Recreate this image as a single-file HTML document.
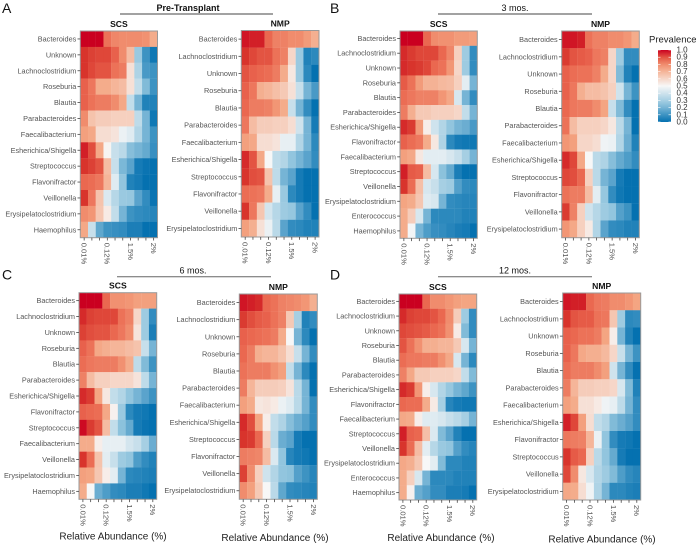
<!DOCTYPE html>
<html lang="en">
<head>
<meta charset="utf-8">
<title>Prevalence heatmaps</title>
<style>
html,body{margin:0;padding:0;background:#fff;}
svg{display:block;font-family:"Liberation Sans",Arial,sans-serif;}
.ylab{font-size:7.3px;fill:#555;text-anchor:end;dominant-baseline:central;}
.xlab{font-size:7.6px;fill:#555;}
.ptitle{font-size:8.6px;font-weight:bold;fill:#111;text-anchor:middle;}
.group{font-size:9px;fill:#111;text-anchor:middle;}
.letter{font-size:14px;fill:#111;}
.axis-title{font-size:10px;fill:#222;text-anchor:middle;}
.legend-title{font-size:9.5px;fill:#222;}
.legend-label{font-size:8px;fill:#333;dominant-baseline:central;}
</style>
</head>
<body>
<svg id="chart" xmlns="http://www.w3.org/2000/svg" width="696" height="549" viewBox="0 0 696 549">
  <rect width="696" height="549" fill="#fff"/>
  <text class="letter" x="2" y="13">A</text>
  <text class="letter" x="330" y="13">B</text>
  <text class="letter" x="2" y="279.5">C</text>
  <text class="letter" x="330" y="279.5">D</text>

  <text class="group" style="font-weight:bold" x="188" y="11">Pre-Transplant</text>
  <line x1="120" x2="273" y1="14" y2="14" stroke="#444" stroke-width="1"/>
  <text class="group" x="515" y="11">3 mos.</text>
  <line x1="438" x2="592" y1="14" y2="14" stroke="#444" stroke-width="1"/>
  <text class="group" x="193" y="273.5">6 mos.</text>
  <line x1="117" x2="271" y1="276.7" y2="276.7" stroke="#666" stroke-width="1"/>
  <text class="group" x="515" y="273.5">12 mos.</text>
  <line x1="438" x2="592" y1="276.7" y2="276.7" stroke="#666" stroke-width="1"/>

  <text class="axis-title" x="113" y="539.5">Relative Abundance (%)</text>
  <text class="axis-title" x="275" y="541">Relative Abundance (%)</text>
  <text class="axis-title" x="441" y="541">Relative Abundance (%)</text>
  <text class="axis-title" x="602" y="542.5">Relative Abundance (%)</text>

  <defs>
    <linearGradient id="legend-gradient" x1="0" y1="0" x2="0" y2="1"></linearGradient>
  </defs>
  <text class="legend-title" x="649" y="42.5">Prevalence</text>
  <rect x="658" y="50" width="13" height="72" fill="url(#legend-gradient)"/>
  <g id="legend"></g>
  <g id="panels"></g>
</svg>
<script>
// ---- shared axis data ----
const xTickLabels = ['0.01%', '', '', '0.12%', '', '', '1.5%', '', '', '2%'];
const legendTicks = [1.0, 0.9, 0.8, 0.7, 0.6, 0.5, 0.4, 0.3, 0.2, 0.1, 0.0];

// ---- taxa (row categories) ----
const taxaASCS = ['Bacteroides','Unknown','Lachnoclostridium','Roseburia','Blautia','Parabacteroides','Faecalibacterium','Esherichica/Shigella','Streptococcus','Flavonifractor','Veillonella','Erysipelatoclostridium','Haemophilus'];
const taxaNMP = ['Bacteroides','Lachnoclostridium','Unknown','Roseburia','Blautia','Parabacteroides','Faecalibacterium','Esherichica/Shigella','Streptococcus','Flavonifractor','Veillonella','Erysipelatoclostridium'];
const taxaBSCS = ['Bacteroides','Lachnoclostridium','Unknown','Roseburia','Blautia','Parabacteroides','Esherichica/Shigella','Flavonifractor','Faecalibacterium','Streptococcus','Veillonella','Erysipelatoclostridium','Enterococcus','Haemophilus'];
const taxaCSCS = ['Bacteroides','Lachnoclostridium','Unknown','Roseburia','Blautia','Parabacteroides','Esherichica/Shigella','Flavonifractor','Streptococcus','Faecalibacterium','Veillonella','Erysipelatoclostridium','Haemophilus'];
const taxaDNMP = ['Bacteroides','Lachnoclostridium','Unknown','Roseburia','Blautia','Parabacteroides','Faecalibacterium','Esherichica/Shigella','Flavonifractor','Streptococcus','Veillonella','Erysipelatoclostridium'];

// ---- prevalence values ----
const valuesASCS = [
[1,1,1,.85,.81,.8,.8,.8,.79,.73],
[.95,.93,.92,.92,.88,.8,.68,.27,.1,.02],
[.95,.92,.9,.9,.85,.83,.57,.32,.12,.1],
[.88,.84,.73,.73,.7,.68,.57,.37,.22,.1],
[.88,.85,.83,.83,.8,.74,.37,.2,.05,.05],
[.8,.66,.63,.63,.62,.62,.62,.36,.2,.02],
[.76,.74,.58,.58,.56,.47,.44,.33,.2,.1],
[.97,.91,.74,.51,.38,.35,.23,.2,.17,.09],
[.95,.93,.9,.68,.38,.21,.15,.03,.01,0],
[.87,.86,.84,.7,.44,.25,.05,.03,0,0],
[.95,.84,.66,.43,.34,.27,.26,.15,.08,.01],
[.8,.78,.65,.54,.37,.2,.1,.08,.07,.06],
[.74,.38,.16,.1,.09,.08,.04,.04,0,0]];
const valuesANMP = [
[.98,.97,.97,.87,.82,.82,.8,.8,.77,.72],
[.95,.92,.9,.9,.85,.82,.6,.27,.05,.07],
[.9,.88,.87,.86,.83,.73,.55,.27,.07,0],
[.88,.84,.72,.7,.67,.64,.57,.38,.2,.12],
[.87,.83,.83,.82,.78,.73,.38,.2,.08,0],
[.84,.68,.63,.63,.62,.62,.58,.4,.2,.03],
[.76,.74,.58,.58,.56,.46,.46,.33,.2,.07],
[.96,.9,.74,.5,.36,.33,.25,.2,.15,.08],
[.95,.91,.9,.66,.36,.2,.15,.03,0,0],
[.86,.85,.84,.73,.46,.27,.07,.03,0,0],
[.95,.84,.65,.41,.34,.28,.26,.15,.08,0],
[.76,.72,.57,.47,.35,.15,.08,.07,.05,.05]];
const valuesBSCS = [
[1,1,1,.87,.8,.79,.79,.77,.77,.76],
[.96,.94,.92,.92,.92,.87,.81,.62,.28,.08],
[.96,.95,.94,.92,.87,.85,.78,.6,.28,.08],
[.89,.85,.77,.71,.71,.69,.68,.62,.45,.2],
[.86,.84,.82,.82,.82,.78,.74,.42,.2,.08],
[.83,.72,.64,.64,.62,.62,.62,.6,.37,.2],
[.96,.94,.77,.53,.4,.33,.25,.2,.18,.12],
[.88,.86,.84,.73,.55,.32,.07,.03,.02,.02],
[.76,.74,.55,.45,.45,.45,.42,.38,.3,.2],
[.97,.89,.88,.68,.42,.24,.17,.04,0,0],
[.95,.86,.67,.42,.38,.3,.28,.14,.08,.07],
[.75,.73,.65,.44,.42,.2,.08,.07,.06,.06],
[.73,.63,.42,.2,.07,.07,.07,.07,.05,.05],
[.73,.49,.2,.13,.09,.08,.06,.04,.03,0]];
const valuesBNMP = [
[.98,.98,.97,.85,.82,.82,.8,.8,.78,.73],
[.94,.9,.89,.88,.84,.82,.6,.28,.08,.08],
[.88,.86,.85,.85,.82,.73,.6,.22,.05,0],
[.88,.84,.72,.68,.68,.66,.62,.4,.2,.1],
[.87,.84,.83,.83,.8,.75,.38,.22,.08,0],
[.85,.68,.62,.62,.62,.6,.55,.35,.2,0],
[.78,.76,.6,.6,.58,.48,.47,.33,.18,.05],
[.96,.92,.74,.5,.35,.32,.23,.17,.13,.08],
[.92,.91,.87,.62,.35,.2,.15,.03,0,0],
[.85,.83,.83,.68,.45,.26,.08,.02,0,0],
[.94,.82,.62,.4,.34,.28,.25,.14,.1,0],
[.78,.74,.62,.54,.33,.15,.08,.07,.05,.05]];
const valuesCSCS = [
[1,1,1,.87,.79,.79,.78,.76,.76,.76],
[.96,.93,.92,.92,.92,.85,.82,.6,.28,.08],
[.93,.91,.9,.9,.87,.84,.8,.56,.28,.04],
[.88,.85,.74,.72,.7,.7,.68,.66,.38,.2],
[.86,.84,.83,.83,.83,.79,.73,.36,.22,.1],
[.82,.68,.62,.62,.6,.6,.6,.56,.36,.2],
[.96,.94,.75,.55,.37,.33,.25,.2,.15,.1],
[.88,.87,.86,.74,.52,.27,.07,.03,.02,0],
[.99,.94,.9,.68,.37,.24,.17,.03,.01,0],
[.73,.73,.53,.46,.46,.46,.41,.38,.3,.18],
[.95,.86,.66,.45,.38,.28,.25,.13,.08,.05],
[.76,.75,.65,.53,.45,.2,.07,.06,.05,.04],
[.73,.5,.18,.13,.08,.07,.04,.04,.02,0]];
const valuesCNMP = [
[.98,.97,.96,.87,.85,.82,.81,.8,.78,.72],
[.94,.91,.89,.88,.85,.82,.64,.3,.05,.08],
[.88,.87,.86,.85,.83,.73,.5,.2,.07,0],
[.87,.83,.72,.7,.7,.66,.58,.38,.2,.08],
[.85,.83,.83,.83,.79,.76,.37,.2,.07,0],
[.83,.7,.63,.63,.63,.62,.56,.35,.2,0],
[.76,.73,.55,.56,.54,.47,.44,.35,.2,.08],
[.96,.91,.75,.53,.37,.32,.23,.18,.14,.08],
[.95,.94,.87,.62,.35,.18,.15,.03,0,0],
[.83,.82,.81,.68,.43,.25,.06,.03,.02,0],
[.93,.8,.62,.4,.33,.25,.24,.14,.1,.06],
[.8,.76,.64,.5,.35,.16,.08,.07,.06,.05]];
const valuesDSCS = [
[1,1,1,.87,.8,.8,.78,.76,.75,.75],
[.96,.93,.92,.92,.9,.87,.8,.63,.28,.08],
[.92,.91,.9,.89,.87,.85,.79,.54,.22,.08],
[.9,.85,.79,.72,.72,.7,.7,.64,.42,.2],
[.86,.84,.84,.83,.83,.79,.74,.42,.2,.07],
[.82,.74,.64,.64,.62,.62,.62,.6,.37,.22],
[.96,.94,.78,.53,.42,.33,.26,.2,.16,.1],
[.87,.86,.86,.73,.54,.3,.06,.03,.02,.02],
[.74,.73,.53,.44,.44,.42,.38,.35,.3,.2],
[.97,.88,.87,.67,.43,.22,.15,.05,0,0],
[.95,.86,.68,.45,.34,.27,.25,.14,.08,.06],
[.74,.72,.65,.5,.45,.22,.07,.07,.05,.05],
[.73,.62,.42,.2,.07,.07,.07,.05,.05,.05],
[.73,.52,.18,.14,.08,.08,.04,.04,.03,0]];
const valuesDNMP = [
[.98,.97,.97,.87,.84,.83,.8,.8,.78,.75],
[.95,.9,.89,.89,.85,.84,.65,.28,.07,.08],
[.88,.87,.85,.85,.83,.75,.53,.2,.05,0],
[.88,.84,.74,.72,.72,.69,.6,.38,.2,.1],
[.86,.83,.83,.83,.8,.76,.4,.2,.08,0],
[.83,.7,.63,.63,.62,.62,.6,.42,.22,.05],
[.76,.73,.57,.57,.54,.48,.46,.36,.2,.08],
[.97,.92,.76,.58,.37,.33,.22,.18,.14,.08],
[.84,.83,.82,.7,.47,.25,.08,.03,.02,0],
[.95,.89,.87,.62,.35,.25,.17,.03,0,0],
[.92,.8,.55,.42,.33,.28,.22,.13,.08,.06],
[.74,.73,.58,.48,.32,.2,.07,.07,.05,.04]];

const SVGNS = 'http://www.w3.org/2000/svg';
const panelsGroup = document.getElementById('panels');

// colour scale: diverging blue-white-red, orange-leaning in the upper reds
const scaleBreaks = [0, 0.25, 0.5, 0.75, 0.87, 0.95, 1];
const scaleColors = [[5,113,176],[146,197,222],[247,247,247],[244,165,130],[234,104,80],[216,52,44],[202,0,32]];
function colorScale(v) {
  const x = Math.max(0, Math.min(1, v));
  let i = 0;
  while (i < scaleBreaks.length - 2 && x > scaleBreaks[i + 1]) i++;
  const t = (x - scaleBreaks[i]) / (scaleBreaks[i + 1] - scaleBreaks[i]);
  const m = scaleColors[i].map((a, k) => Math.round(a + (scaleColors[i + 1][k] - a) * t));
  return 'rgb(' + m.join(',') + ')';
}
function svgEl(tag, attrs, parent) {
  const el = document.createElementNS(SVGNS, tag);
  for (const k in attrs) el.setAttribute(k, attrs[k]);
  parent.appendChild(el);
  return el;
}

function drawPanel(id, title, taxa, values, x0, x1, y0, y1) {
  const nCols = values[0].length;
  const nRows = taxa.length;
  const xScale = c => x0 + (x1 - x0) * c / nCols;
  const yScale = r => y0 + (y1 - y0) * r / nRows;
  const cellW = (x1 - x0) / nCols;
  const cellH = (y1 - y0) / nRows;

  const g = svgEl('g', {}, panelsGroup);
  
  

  const t = svgEl('text', {class: 'ptitle', x: (x0 + x1) / 2, y: y0 - 4}, g);
  
  
  t.textContent = title;

  values.forEach((row, r) => {
    row.forEach((v, c) => {
      const cell = svgEl('rect', {x: xScale(c), y: yScale(r), width: cellW + 0.15, height: cellH + 0.15, fill: colorScale(v)}, g);
      
      
    });
  });

  const frame = svgEl('rect', {x: x0, y: y0, width: x1 - x0, height: y1 - y0, fill: 'none', stroke: '#999', 'stroke-width': 1}, g);
  
  

  taxa.forEach((name, r) => {
    const yc = yScale(r + 0.5);
    const tick = svgEl('line', {x1: x0 - 2.8, x2: x0, y1: yc, y2: yc, stroke: '#444', 'stroke-width': 0.8}, g);
    
    
    const lab = svgEl('text', {class: 'ylab', x: x0 - 4, y: yc}, g);
    
    
    lab.textContent = name;
  });

  xTickLabels.forEach((label, c) => {
    const xc = xScale(c + 0.5);
    const tick = svgEl('line', {x1: xc, x2: xc, y1: y1, y2: y1 + 2.8, stroke: '#444', 'stroke-width': 0.8}, g);
    
    
    if (label) {
      const lab = svgEl('text', {class: 'xlab', transform: 'translate(' + (xc - 2.6) + ',' + (y1 + 5) + ') rotate(90)'}, g);
      
      
      lab.textContent = label;
    }
  });
}

drawPanel('a-scs', 'SCS', taxaASCS, valuesASCS, 80.3, 157.5, 31, 237.7);
drawPanel('a-nmp', 'NMP', taxaNMP, valuesANMP, 241.3, 319, 30.5, 237);
drawPanel('b-scs', 'SCS', taxaBSCS, valuesBSCS, 400, 477.3, 31, 238.3);
drawPanel('b-nmp', 'NMP', taxaNMP, valuesBNMP, 561.7, 639.3, 31, 237.7);
drawPanel('c-scs', 'SCS', taxaCSCS, valuesCSCS, 79, 156.7, 292.7, 499.3);
drawPanel('c-nmp', 'NMP', taxaNMP, valuesCNMP, 239.3, 317.3, 294, 499.3);
drawPanel('d-scs', 'SCS', taxaBSCS, valuesDSCS, 399, 476.7, 294, 500);
drawPanel('d-nmp', 'NMP', taxaDNMP, valuesDNMP, 562.7, 640.7, 293, 500);

// legend
const gradient = document.getElementById('legend-gradient');
const legendGroup = document.getElementById('legend');
const legendY = v => 122 - 72 * v;
legendTicks.forEach(v => {
  svgEl('stop', {offset: (1 - v), 'stop-color': colorScale(v)}, gradient);
  const l = svgEl('line', {x1: 658, x2: 660.5, y1: legendY(v), y2: legendY(v), stroke: '#fff', 'stroke-width': 0.6}, legendGroup);
  
  
  const r = svgEl('line', {x1: 668.5, x2: 671, y1: legendY(v), y2: legendY(v), stroke: '#fff', 'stroke-width': 0.6}, legendGroup);
  
  
  const t = svgEl('text', {class: 'legend-label', x: 676.5, y: legendY(v)}, legendGroup);
  
  
  t.textContent = v.toFixed(1);
});
</script>
</body>
</html>
